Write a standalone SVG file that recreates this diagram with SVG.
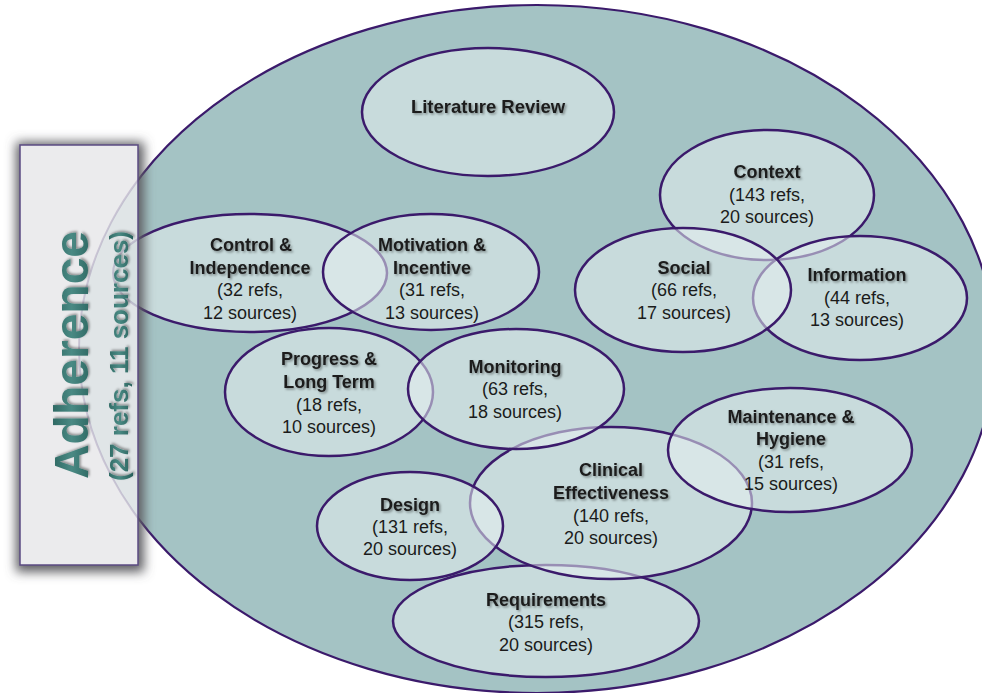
<svg xmlns="http://www.w3.org/2000/svg" width="982" height="693" viewBox="0 0 982 693">
  <defs>
    <style>
      .topic ellipse { fill: #e6eff0; fill-opacity: 0.55; stroke: #3b1a6b; stroke-width: 2.5; }
      .t { font-family: "Liberation Sans", Arial, sans-serif; font-size: 18px; fill: #1b1b1b; text-anchor: middle; }
      .b { font-weight: bold; filter: url(#ts); }
      .adh { font-family: "Liberation Sans", Arial, sans-serif; font-weight: bold; fill: url(#teal); text-anchor: middle; filter: url(#ts); }
      .ghost { fill: #a4c3c4; fill-opacity: 0.14; stroke: #3b1a6b; stroke-opacity: 0.18; stroke-width: 2; }
    </style>
    <filter id="ts" x="-10%" y="-40%" width="120%" height="180%">
      <feDropShadow dx="1.5" dy="1.5" stdDeviation="1.2" flood-color="#000" flood-opacity="0.4"/>
    </filter>
    <!-- wide soft halo round the side card -->
    <filter id="panelShadow" filterUnits="userSpaceOnUse" x="0" y="110" width="180" height="490">
      <feMorphology in="SourceAlpha" operator="dilate" radius="5" result="grown"/>
      <feGaussianBlur in="grown" stdDeviation="5.5" result="soft"/>
      <feFlood flood-color="#5e5e62" flood-opacity="1"/>
      <feComposite in2="soft" operator="in" result="halo"/>
      <feOffset in="halo" dx="1" dy="2" result="moved"/>
      <feMerge>
        <feMergeNode in="moved"/>
        <feMergeNode in="SourceGraphic"/>
      </feMerge>
    </filter>
    <linearGradient id="teal" x1="0" y1="0" x2="0" y2="1">
      <stop offset="0" stop-color="#245c57"/>
      <stop offset="0.5" stop-color="#4a8a84"/>
      <stop offset="1" stop-color="#245c57"/>
    </linearGradient>
    <clipPath id="panelArea">
      <rect x="20" y="145" width="118" height="420"/>
    </clipPath>
  </defs>

  <!-- outer domain ellipse -->
  <g id="domain">
    <ellipse cx="537" cy="349" rx="458" ry="344" fill="#a4c3c4" stroke="#3b1a6b" stroke-width="2.2"/>
  </g>

  <g id="literature-review" class="topic">
    <ellipse cx="488" cy="112" rx="126" ry="64"/>
    <text class="t b" x="488" y="113" style="font-size:18.5px">Literature Review</text>
  </g>

  <g id="context" class="topic">
    <ellipse cx="767" cy="195" rx="107" ry="65"/>
    <text class="t b" x="767" y="178">Context</text>
    <text class="t" x="767" y="201">(143 refs,</text>
    <text class="t" x="767" y="223">20 sources)</text>
  </g>

  <g id="information" class="topic">
    <ellipse cx="860" cy="298" rx="107" ry="62"/>
    <text class="t b" x="857" y="281">Information</text>
    <text class="t" x="857" y="304">(44 refs,</text>
    <text class="t" x="857" y="326">13 sources)</text>
  </g>

  <g id="social" class="topic">
    <ellipse cx="683" cy="290" rx="108" ry="62"/>
    <text class="t b" x="684" y="274">Social</text>
    <text class="t" x="684" y="296">(66 refs,</text>
    <text class="t" x="684" y="319">17 sources)</text>
  </g>

  <g id="control-independence" class="topic">
    <ellipse cx="250" cy="273" rx="137" ry="59"/>
    <text class="t b" x="251" y="251">Control &amp;</text>
    <text class="t b" x="250" y="274">Independence</text>
    <text class="t" x="250" y="296">(32 refs,</text>
    <text class="t" x="250" y="319">12 sources)</text>
  </g>

  <g id="motivation-incentive" class="topic">
    <ellipse cx="431" cy="272" rx="108" ry="58"/>
    <text class="t b" x="432" y="251">Motivation &amp;</text>
    <text class="t b" x="432" y="274">Incentive</text>
    <text class="t" x="432" y="296">(31 refs,</text>
    <text class="t" x="432" y="319">13 sources)</text>
  </g>

  <g id="progress-long-term" class="topic">
    <ellipse cx="329" cy="392" rx="104" ry="64"/>
    <text class="t b" x="329" y="365">Progress &amp;</text>
    <text class="t b" x="329" y="388">Long Term</text>
    <text class="t" x="329" y="411">(18 refs,</text>
    <text class="t" x="329" y="433">10 sources)</text>
  </g>

  <g id="requirements" class="topic">
    <ellipse cx="546" cy="621" rx="153" ry="56"/>
    <text class="t b" x="546" y="606">Requirements</text>
    <text class="t" x="546" y="628">(315 refs,</text>
    <text class="t" x="546" y="651">20 sources)</text>
  </g>

  <g id="clinical-effectiveness" class="topic">
    <ellipse cx="611" cy="503" rx="141" ry="76"/>
    <text class="t b" x="611" y="476">Clinical</text>
    <text class="t b" x="611" y="499">Effectiveness</text>
    <text class="t" x="611" y="522">(140 refs,</text>
    <text class="t" x="611" y="544">20 sources)</text>
  </g>

  <g id="monitoring" class="topic">
    <ellipse cx="516" cy="389" rx="108" ry="60"/>
    <text class="t b" x="515" y="373">Monitoring</text>
    <text class="t" x="515" y="395">(63 refs,</text>
    <text class="t" x="515" y="418">18 sources)</text>
  </g>

  <g id="design" class="topic">
    <ellipse cx="410" cy="526" rx="93" ry="54"/>
    <text class="t b" x="410" y="511">Design</text>
    <text class="t" x="410" y="533">(131 refs,</text>
    <text class="t" x="410" y="555">20 sources)</text>
  </g>

  <g id="maintenance-hygiene" class="topic">
    <ellipse cx="790" cy="450" rx="122" ry="62"/>
    <text class="t b" x="791" y="423">Maintenance &amp;</text>
    <text class="t b" x="791" y="445">Hygiene</text>
    <text class="t" x="791" y="468">(31 refs,</text>
    <text class="t" x="791" y="490">15 sources)</text>
  </g>

  <!-- side panel: shadowed card, with the shapes behind it faintly showing through -->
  <g id="adherence">
    <rect x="20" y="145" width="118" height="420" fill="#ebebed" filter="url(#panelShadow)"/>
    <g clip-path="url(#panelArea)">
      <ellipse class="ghost" cx="537" cy="349" rx="458" ry="344"/>
      <ellipse class="ghost" cx="250" cy="273" rx="137" ry="59"/>
    </g>
    <rect x="20" y="145" width="118" height="420" fill="none" stroke="#5b4b82" stroke-width="1.5"/>
    <text class="adh" transform="translate(88,355) rotate(-90)" x="0" y="0" font-size="48">Adherence</text>
    <text class="adh" transform="translate(128,356) rotate(-90)" x="0" y="0" font-size="26">(27 refs, 11 sources)</text>
  </g>

  <g id="connectors"/>
</svg>
